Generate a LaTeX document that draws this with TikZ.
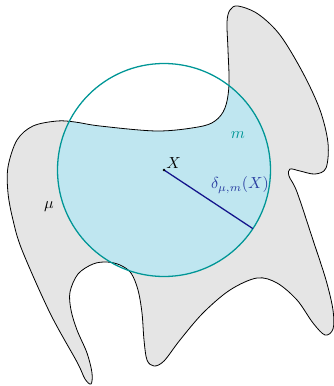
\documentclass[tikz,border=0pt]{standalone}
\usetikzlibrary{calc}
\definecolor{blobgray}{RGB}{229,229,229}
\definecolor{ballfill}{RGB}{191,230,240}
\definecolor{balledge}{RGB}{0,150,150}
\definecolor{radcol}{RGB}{20,20,140}
\definecolor{labcol}{RGB}{40,60,160}
\begin{document}
\begin{tikzpicture}[x=0.625pt,y=-0.625pt,
  lab/.style={inner sep=0pt}]
\useasboundingbox (0,0) rectangle (334,386);
\def\blob{plot[smooth cycle, tension=0.55] coordinates {
(238,6) (258,14) (280,35) (303,73) (320,110) (328,143) (326,168) (315,174) (300,171) (290,169) (289,176) (297,192) (313,240) (326,280) (333,310) (333,329) (325,335) (313,323) (297,300) (277,283) (257,278) (230,290) (203,313) (180,340) (164,361) (154,366) (147,360) (144,340) (142,313) (138,290) (131,273) (120,265) (107,262) (93,264) (78,274) (70,292) (71,310) (77,330) (87,353) (92,373) (91,384) (85,379) (77,362) (50,313) (22,250) (13,220) (8,193) (8,167) (17,140) (33,126) (57,121) (75,122) (100,126) (157,131) (198,127) (215,121) (225,108) (229,85) (228,50) (227,22) (230,10)}}
\fill[blobgray] \blob;
\begin{scope}
  \clip (164,170) circle[radius=106.5];
  \fill[ballfill] \blob;
\end{scope}
\draw[black, line width=0.5pt] \blob;
\coordinate (X) at (164,170);
\draw[balledge, line width=0.8pt] (X) circle[radius=106.5];
\coordinate (E) at ($(X)+(33.4:106.5)$);
\draw[radcol, line width=0.8pt] (X) -- (E);
\fill[black] (X) circle[radius=1.3];
\node[lab, anchor=south west] (xl) at (166,169) {$X$};
\node[lab, text=labcol] (dl) at (240,185) {$\delta_{\mu,m}(X)$};
\node[lab, text=balledge] (ml) at (238,135) {$m$};
\node[lab] (mul) at (49,207) {$\mu$};
\end{tikzpicture}
\end{document}
